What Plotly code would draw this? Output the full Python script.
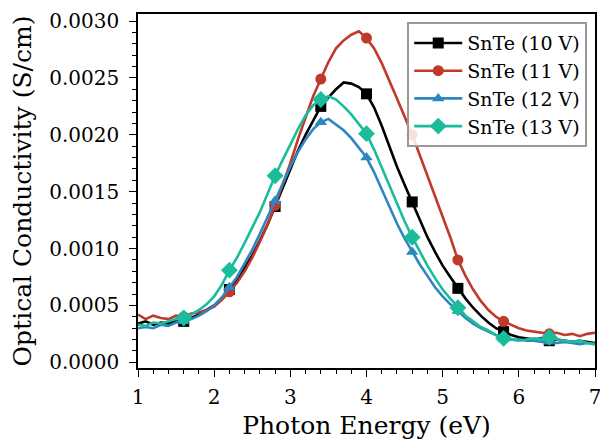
import plotly.graph_objects as go

energy = [round(1.0 + 0.1 * i, 1) for i in range(61)]

snte_10v = [.00034, .00036, .00033, .00035, .00034, .00037, .00036, .00039, .00042, .00046,
            .00050, .00056, .00064, .00072, .00083, .00094, .00107, .00121, .00137, .00153,
            .00170, .00186, .00200, .00213, .00225, .00233, .00240, .00246, .00245, .00242,
            .00236, .00224, .00208, .00190, .00172, .00156, .00141, .00125, .00110, .00097,
            .00085, .00075, .00065, .00056, .00048, .00041, .00035, .00030, .00027, .00024,
            .00022, .00021, .00020, .00021, .00019, .00020, .00019, .00018, .00019, .00018,
            .00017]
snte_11v = [.00042, .00038, .00041, .00039, .00038, .00041, .00040, .00043, .00044, .00046,
            .00049, .00055, .00062, .00070, .00080, .00092, .00106, .00121, .00138, .00156,
            .00175, .00196, .00216, .00234, .00249, .00264, .00276, .00283, .00288, .00291,
            .00285, .00276, .00263, .00248, .00232, .00216, .00200, .00182, .00164, .00146,
            .00129, .00110, .00090, .00076, .00064, .00054, .00046, .00040, .00036, .00033,
            .00030, .00028, .00027, .00026, .00025, .00026, .00024, .00025, .00023, .00025,
            .00026]
snte_12v = [.00030, .00031, .00030, .00033, .00032, .00035, .00036, .00038, .00041, .00045,
            .00050, .00057, .00066, .00075, .00087, .00099, .00113, .00127, .00142, .00157,
            .00172, .00185, .00196, .00205, .00211, .00214, .00209, .00204, .00197, .00189,
            .00180, .00167, .00152, .00137, .00122, .00109, .00097, .00086, .00076, .00066,
            .00058, .00051, .00045, .00039, .00034, .00030, .00027, .00024, .00021, .00020,
            .00020, .00019, .00019, .00018, .00018, .00017, .00018, .00017, .00016, .00017,
            .00016]
snte_13v = [.00033, .00032, .00035, .00034, .00036, .00038, .00039, .00042, .00046, .00051,
            .00058, .00068, .00081, .00092, .00105, .00118, .00132, .00148, .00164, .00178,
            .00192, .00205, .00217, .00226, .00231, .00234, .00231, .00225, .00218, .00210,
            .00201, .00187, .00171, .00155, .00139, .00124, .00110, .00097, .00085, .00074,
            .00064, .00056, .00048, .00041, .00036, .00031, .00028, .00024, .00021, .00020,
            .00019, .00020, .00021, .00020, .00022, .00020, .00019, .00018, .00019, .00017,
            .00016]

series_names = ["SnTe (10 V)", "SnTe (11 V)", "SnTe (12 V)", "SnTe (13 V)"]
series_values = [snte_10v, snte_11v, snte_12v, snte_13v]
colors = ["#000000", "#c0392b", "#2e86c1", "#1abc9c"]
symbols = ["square", "circle", "triangle-up", "diamond"]
mark_start, mark_stop, mark_every = 6, 60, 6

FONT = "DejaVu Serif"
fig = go.Figure()
for name, vals, col, sym in zip(series_names, series_values, colors, symbols):
    msize = 11 if sym != "diamond" else 13
    fig.add_trace(go.Scatter(x=energy, y=vals, mode="lines", line=dict(color=col, width=2.6),
                             showlegend=False, hoverinfo="skip"))
    fig.add_trace(go.Scatter(x=energy[mark_start:mark_stop:mark_every],
                             y=vals[mark_start:mark_stop:mark_every], mode="markers",
                             marker=dict(symbol=sym, color=col, size=msize), showlegend=False))
    fig.add_trace(go.Scatter(x=[None], y=[None], mode="lines+markers", name=name,
                             line=dict(color=col, width=2.6),
                             marker=dict(symbol=sym, color=col, size=msize)))

axis_common = dict(showline=True, linecolor="black", linewidth=1.6, mirror=True,
                   ticks="outside", ticklen=7, tickwidth=1.3, tickcolor="black",
                   showgrid=False, zeroline=False, automargin=False,
                   ticklabeloverflow="allow",
                   tickfont=dict(family=FONT, size=20, color="black"))

fig.update_xaxes(range=[1, 7], dtick=1, tick0=1, ticklabelstandoff=3,
                 minor=dict(ticks="outside", dtick=0.2, ticklen=4, tickwidth=1, tickcolor="black"),
                 title=dict(text="Photon Energy (eV)", font=dict(family=FONT, size=25, color="black"),
                            standoff=9),
                 **axis_common)
fig.update_yaxes(range=[-0.00005, 0.003062], dtick=0.0005, tick0=0, tickformat=".4f",
                 ticklabelstandoff=6,
                 minor=dict(ticks="outside", dtick=0.0001, ticklen=4, tickwidth=1, tickcolor="black"),
                 title=dict(text="Optical Conductivity (S/cm)", font=dict(family=FONT, size=25, color="black"),
                            standoff=10),
                 **axis_common)

fig.update_layout(
    width=600, height=441,
    margin=dict(l=138, r=5, t=14, b=73),
    paper_bgcolor="white", plot_bgcolor="white",
    font=dict(family=FONT, color="black"),
    legend=dict(x=0.983, y=0.977, xanchor="right", yanchor="top",
                bgcolor="rgba(255,255,255,0.85)", bordercolor="#999999", borderwidth=2,
                font=dict(family=FONT, size=19, color="black"),
                tracegroupgap=0, itemwidth=48),
    showlegend=True,
)

fig.write_html("out.html", config={"displayModeBar": False},
               post_script="document.body.style.margin='0';document.body.style.overflow='hidden';")
